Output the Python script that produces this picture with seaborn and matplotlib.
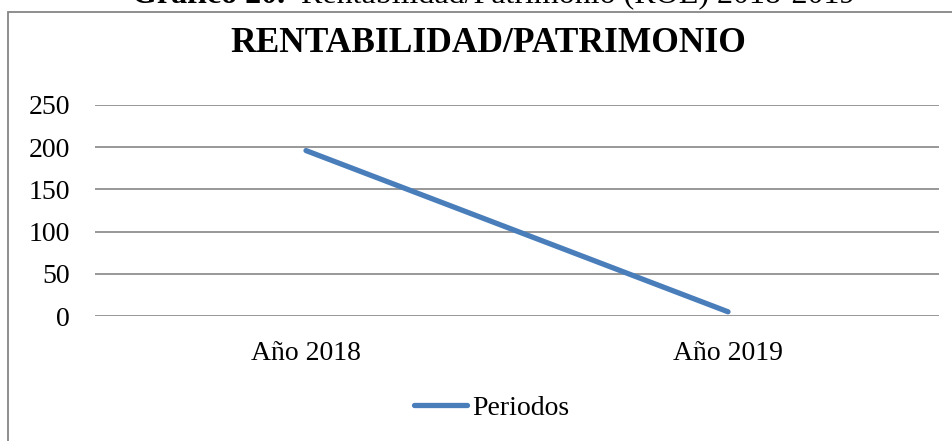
import matplotlib
matplotlib.use("Agg")
import matplotlib.pyplot as plt
import seaborn as sns
import pandas as pd
from matplotlib.patches import Rectangle

periodos = ["Año 2018", "Año 2019"]
valores = [196, 5]
serie = "Periodos"
yticks = [0, 50, 100, 150, 200, 250]
titulo = "RENTABILIDAD/PATRIMONIO"
encabezado_bold = "Gráfico 20."
encabezado = "  Rentabilidad/Patrimonio (ROE) 2018-2019"

sns.set_theme(style="white")
plt.rcParams["font.family"] = ["Liberation Serif", "DejaVu Serif"]
plt.rcParams["text.color"] = "black"

df = pd.DataFrame({"periodo": periodos, "valor": valores})

fig = plt.figure(figsize=(9.53, 4.41), dpi=100)
ax = fig.add_axes([95/953, 1-316/441, (939-95)/953, (316-105)/441])

sns.lineplot(data=df, x="periodo", y="valor", ax=ax, color="#4A7EBB",
             linewidth=3.8, solid_capstyle="round", label=serie, sort=False)

ax.set_xlim(-0.5, 1.5)
ax.set_ylim(0, 250)
ax.set_yticks(yticks)
ax.set_xlabel("")
ax.set_ylabel("")
ax.grid(axis="y", color="#868686", linewidth=1.2)
ax.grid(axis="x", visible=False)
ax.set_axisbelow(True)
for s in ax.spines.values():
    s.set_visible(False)
ax.tick_params(axis="y", length=0, pad=18, labelsize=20, colors="black")
ax.tick_params(axis="x", length=0, pad=18, labelsize=20, colors="black")

leg = ax.legend(loc="center", bbox_to_anchor=(492/953, 1-408/441),
                bbox_transform=fig.transFigure, frameon=False, fontsize=20,
                handlelength=1.9, handletextpad=0.2)
for t in leg.get_texts():
    t.set_color("black")

fig.text(488/953, 1-44/441, titulo, ha="center", va="center",
         fontsize=25.5, fontweight="bold", color="black")

# top caption (partially cut, as in the reference)
t1 = fig.text(132/953, 1-3/441, encabezado_bold, ha="left", va="baseline",
              fontsize=23, fontweight="bold", color="black")
fig.canvas.draw()
bb = t1.get_window_extent()
fig.text(bb.x1/953, 1-3/441, encabezado, ha="left", va="baseline",
         fontsize=23, color="black")

fig.patches.append(Rectangle((8/953, -0.1), 1.2, 1.1 - 12/441,
                             transform=fig.transFigure, fill=False,
                             edgecolor="#868686", linewidth=1.3))

fig.savefig("out.png", dpi=100)
